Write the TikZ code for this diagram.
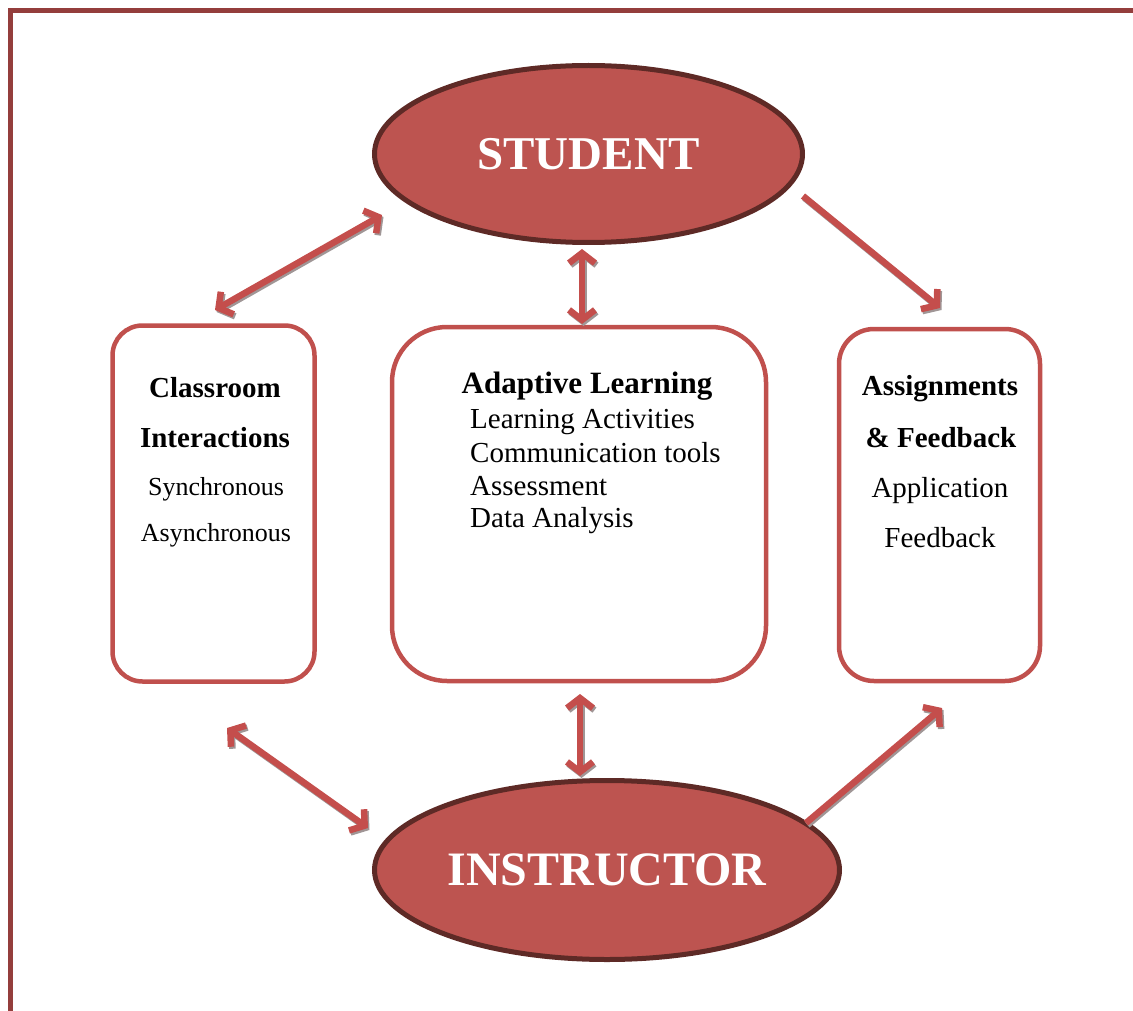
\documentclass[tikz,border=0pt]{standalone}
\usepackage{fontspec}
\setmainfont{Liberation Serif}
\usetikzlibrary{arrows.meta,shapes.geometric}

\definecolor{framered}{RGB}{148,62,60}
\definecolor{ovalfill}{RGB}{189,84,80}
\definecolor{ovaldraw}{RGB}{94,42,38}
\definecolor{boxred}{RGB}{192,80,77}
\definecolor{arrowred}{RGB}{196,78,76}
\definecolor{shadowgray}{RGB}{160,150,150}

\tikzset{
  oval/.style={ellipse, draw=ovaldraw, fill=ovalfill, line width=5pt, inner sep=0pt,
    text=white, font=\bfseries\fontsize{47}{50}\selectfont},
  card/.style={rectangle, draw=boxred, line width=4.5pt, inner sep=0pt},
  ttl/.style={anchor=base, inner sep=0pt, font=\bfseries\fontsize{29}{34}\selectfont},
  itm/.style={anchor=base, inner sep=0pt, font=\fontsize{26}{30}\selectfont},
  itml/.style={anchor=base west, inner sep=0pt, font=\fontsize{29}{33}\selectfont},
  itmr/.style={anchor=base, inner sep=0pt, font=\fontsize{29}{33}\selectfont},
  barb/.tip={Straight Barb[length=10pt,width=26pt,line width=6.5pt]},
  link/.style={draw=arrowred, line width=6.5pt},
  shade/.style={draw=shadowgray, line width=6.5pt},
  one/.style={arrows={-barb}},
  both/.style={arrows={barb-barb}}
}

\begin{document}
\begin{tikzpicture}[x=1pt,y=-1pt]
  \useasboundingbox (0,0) rectangle (1133,1011);

  % page frame: top and left rules
  \draw[framered, line width=5pt] (10.5,1011) -- (10.5,10.5) -- (1133,10.5);

  % the two actors
  \node[oval, minimum width=428pt, minimum height=177pt] (stu) at (588.5,154) {STUDENT};
  \node[oval, minimum width=465pt, minimum height=179pt, font=\bfseries\fontsize{48}{50}\selectfont] (ins) at (607,870) {INSTRUCTOR};

  % the three activity boxes
  \node[card, rounded corners=30pt, minimum width=202pt, minimum height=356pt] (cls) at (213.5,503.5) {};
  \node[card, rounded corners=55pt, minimum width=374pt, minimum height=354pt] (adl) at (579,504) {};
  \node[card, rounded corners=35pt, minimum width=201pt, minimum height=352pt] (asg) at (939.5,505) {};

  % classroom interactions
  \node[ttl] (cls1) at (215,397) {Classroom};
  \node[ttl] (cls2) at (215,447) {Interactions};
  \node[itm] (cls3) at (216,495) {Synchronous};
  \node[itm] (cls4) at (216,541) {Asynchronous};

  % adaptive learning
  \node[ttl, font=\bfseries\fontsize{31}{34}\selectfont] (adl1) at (587,393) {Adaptive Learning};
  \node[itml] (adl2) at (470,428) {Learning Activities};
  \node[itml] (adl3) at (470,462) {Communication tools};
  \node[itml] (adl4) at (470,495) {Assessment};
  \node[itml] (adl5) at (470,527) {Data Analysis};

  % assignments and feedback
  \node[ttl] (asg1) at (940,395) {Assignments};
  \node[ttl] (asg2) at (941,447) {\& Feedback};
  \node[itmr] (asg3) at (940,497) {Application};
  \node[itmr] (asg4) at (940,547) {Feedback};

  % connector end points
  \coordinate (p1) at (215,310);  \coordinate (q1) at (382,215);
  \coordinate (p2) at (582,249);  \coordinate (q2) at (582,324);
  \coordinate (p3) at (803,196);  \coordinate (q3) at (940,308);
  \coordinate (p4) at (227,728);  \coordinate (q4) at (368,828);
  \coordinate (p5) at (580,694);  \coordinate (q5) at (580,776);
  \coordinate (p6) at (806,823);  \coordinate (q6) at (942,708);

  % soft grey drop shadows under the connectors
  \begin{scope}[transform canvas={shift={(1.5pt,-2pt)}}]
    \draw[shade, both] (p1) -- (q1);
    \draw[shade, both] (p2) -- (q2);
    \draw[shade, one]  (p3) -- (q3);
    \draw[shade, both] (p4) -- (q4);
    \draw[shade, both] (p5) -- (q5);
    \draw[shade, one]  (p6) -- (q6);
  \end{scope}

  % connectors
  \draw[link, both] (p1) -- (q1);
  \draw[link, both] (p2) -- (q2);
  \draw[link, one]  (p3) -- (q3);
  \draw[link, both] (p4) -- (q4);
  \draw[link, both] (p5) -- (q5);
  \draw[link, one]  (p6) -- (q6);
\end{tikzpicture}
\end{document}
